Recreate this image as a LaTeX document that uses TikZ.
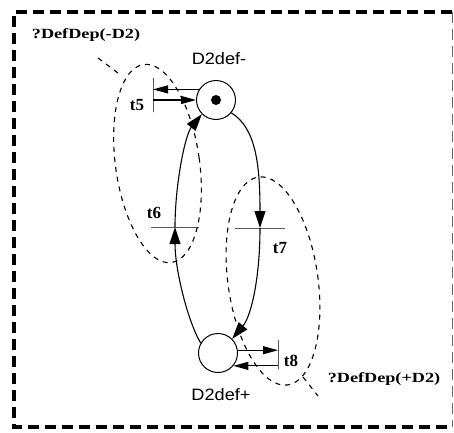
\documentclass[tikz,border=0pt]{standalone}
\usepackage{fontspec}
\setmainfont{Liberation Serif}
\setsansfont{Liberation Sans}
\newfontfamily\dfont[FakeStretch=1.3]{Liberation Serif Bold}
\newfontfamily\pfont[FakeStretch=1.1]{Liberation Sans}
\usetikzlibrary{arrows.meta}
\begin{document}
\begin{tikzpicture}[x=1pt,y=-1pt,
  frame/.style={line width=3.6pt,dash pattern=on 11pt off 6pt},
  thinframe/.style={line width=1pt,dash pattern=on 11pt off 6pt,black!60},
  place/.style={circle,draw,line width=1pt,minimum size=39pt,inner sep=0pt},
  token/.style={circle,fill,minimum size=10pt,inner sep=0pt},
  vtrans/.style={draw,line width=0.9pt,inner sep=0pt,minimum width=0pt,minimum height=34pt},
  htrans/.style={draw,line width=0.9pt,inner sep=0pt,minimum height=0pt,minimum width=48pt},
  arc/.style={line width=1.1pt},
  arrS/.style={arc,-{Triangle[length=15pt,width=8pt]}},
  arrL/.style={arc,-{Triangle[length=17pt,width=11pt]}},
  dell/.style={line width=1.1pt,dash pattern=on 5pt off 5pt},
  tlab/.style={font=\fontsize{17}{17}\selectfont\bfseries,inner sep=0pt},
  plab/.style={font=\fontsize{16.5}{16.5}\pfont,inner sep=0pt},
  dlab/.style={font=\fontsize{14}{14}\dfont,inner sep=0pt}
]
\useasboundingbox (0,0) rectangle (454,432);
% frame
\draw[frame] (452,12) -- (14,12) -- (14,427) -- (452,427);
\draw[thinframe] (452,12) -- (452,427);
% places
\node[place] (pm) at (216,100) {};
\node[token] (tok) at (pm) {};
\node[place] (pp) at (218,353) {};
\node[plab] (lpm) at (219,59) {D2def-};
\node[plab] (lpp) at (221,395) {D2def+};
% transitions
\node[vtrans] (t5) at (153,95) {};
\node[htrans] (t6) at (175,227) {};
\node[htrans,minimum width=50pt] (t7) at (260,228) {};
\node[vtrans,minimum height=29pt] (t8) at (278,354.5) {};
\node[tlab] (lt5) at (137,105) {t5};
\node[tlab] (lt6) at (154,213) {t6};
\node[tlab] (lt7) at (280,248) {t7};
\node[tlab] (lt8) at (291,361) {t8};
% arcs t5
\draw[arrS] (pm.148) -- (pm.148 -| t5.center);
\draw[arrS] (t5.center |- pm.west) -- (pm.west);
% arcs t8
\draw[arrS] (pp.8) -- (pp.8 -| t8.center);
\draw[arrS] (t8.center |- pp.-40) -- (pp.-40);
% left arc via t6
\draw[arrL] (pp.150) .. controls (188,322) and (175,270) .. (t6.center);
\draw[arrL] (t6.center) .. controls (175,185) and (185,135) .. (pm.225);
% right arc via t7
\draw[arrL] (pm.-40) .. controls (256,128) and (260,165) .. (t7.center);
\draw[arrL] (t7.center) .. controls (260,275) and (252,315) .. (pp.45);
% dashed ellipses
\draw[dell, rotate around={8:(157.5,163.5)}] (157.5,163.5) ellipse [x radius=42, y radius=100];
\draw[dell, rotate around={8:(273,281)}] (273,281) ellipse [x radius=45, y radius=105];
% labels and pointers
\node[dlab] (dm) at (86,35) {?DefDep(-D2)};
\node[dlab] (dp) at (384,379) {?DefDep(+D2)};
\coordinate (pm1) at (98,58);
\coordinate (pm2) at (118,73);
\coordinate (pp1) at (303,377);
\coordinate (pp2) at (318,396);
\draw[dell] (pm1) -- (pm2);
\draw[dell] (pp1) -- (pp2);
\end{tikzpicture}
\end{document}
